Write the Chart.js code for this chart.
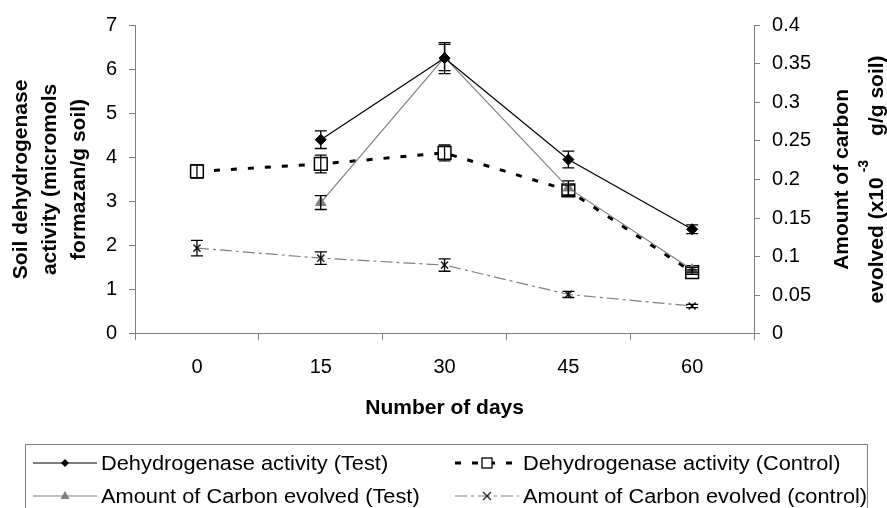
<!DOCTYPE html>
<html>
<head>
<meta charset="utf-8">
<script src="https://cdn.jsdelivr.net/npm/chart.js@4.4.0/dist/chart.umd.min.js"></script>
<style>
  body { margin: 0; background: #fff; font-family: "Liberation Sans", Arial, sans-serif; }
  #wrap { position: relative; width: 887px; height: 508px; overflow: hidden; }
  #legend { position: absolute; left: 25px; top: 444px; width: 843px; height: 80px; border: 1px solid #808080; box-sizing: border-box; }
  .item { position: absolute; display: flex; align-items: center; height: 30px; }
  .item svg { flex: none; }
  .item span { font-size: 20px; color: #000; white-space: nowrap; display: inline-block; transform: scaleX(1.09); transform-origin: left center; margin-left: 4px; }
</style>
</head>
<body>
<div id="wrap">
  <canvas id="chart"></canvas>
  <div id="legend"></div>
</div>
<script>
// days on x axis
const days = ['0', '15', '30', '45', '60'];

// dehydrogenase activity (left axis, micromols formazan/g soil)
const dehydTest = [null, 4.4, 6.25, 3.95, 2.37];
const dehydTestErr = [null, 0.2, 0.35, 0.19, 0.1];
const dehydControl = [3.68, 3.85, 4.1, 3.25, 1.4];
const dehydControlErr = [0.15, 0.2, 0.18, 0.12, 0.05];

// carbon evolved (right axis, x10^-3 g/g soil)
const carbonTest = [null, 0.17, 0.358, 0.189, 0.083];
const carbonTestErr = [null, 0.009, 0.017, 0.009, 0.003];
const carbonControl = [0.111, 0.098, 0.089, 0.051, 0.036];
const carbonControlErr = [0.01, 0.008, 0.008, 0.004, 0.002];

const leftTicks = [0, 1, 2, 3, 4, 5, 6, 7];
const rightTicks = [0, 0.05, 0.1, 0.15, 0.2, 0.25, 0.3, 0.35, 0.4];

const FONT = '"Liberation Sans", Arial, sans-serif';
const GRAY = '#808080';

// error bars drawn through the dataset scales
const errorBars = {
  id: 'errorBars',
  afterDatasetsDraw(chart) {
    const ctx = chart.ctx;
    chart.data.datasets.forEach((ds, i) => {
      if (!ds.errors) return;
      const meta = chart.getDatasetMeta(i);
      const yScale = chart.scales[meta.yAxisID];
      ctx.save();
      ctx.strokeStyle = '#000';
      ctx.lineWidth = 1.3;
      meta.data.forEach((pt, j) => {
        const v = ds.data[j];
        const e = ds.errors[j];
        if (v == null || e == null) return;
        const x = pt.x;
        const y1 = yScale.getPixelForValue(v + e);
        const y2 = yScale.getPixelForValue(v - e);
        ctx.beginPath();
        ctx.moveTo(x, y1); ctx.lineTo(x, y2);
        ctx.moveTo(x - 6, y1); ctx.lineTo(x + 6, y1);
        ctx.moveTo(x - 6, y2); ctx.lineTo(x + 6, y2);
        ctx.stroke();
      });
      ctx.restore();
    });
  }
};

// right axis title, rotated like the left one, with superscript
const rightTitle = {
  id: 'rightTitle',
  afterDraw(chart) {
    const ctx = chart.ctx;
    const area = chart.chartArea;
    const cy = (area.top + area.bottom) / 2;
    const big = 'bold 21px ' + FONT;
    const small = 'bold 14px ' + FONT;
    ctx.save();
    ctx.fillStyle = '#000';
    ctx.textBaseline = 'middle';

    ctx.translate(842, cy);
    ctx.rotate(-Math.PI / 2);
    ctx.font = big;
    ctx.textAlign = 'center';
    ctx.fillText('Amount of carbon', 0, 0);
    ctx.restore();

    ctx.save();
    ctx.fillStyle = '#000';
    ctx.textBaseline = 'middle';
    ctx.translate(877, cy);
    ctx.rotate(-Math.PI / 2);
    ctx.textAlign = 'left';
    const p1 = 'evolved (x10';
    const p2 = '-3';
    const p3 = 'g/g soil)';
    ctx.font = big;
    const w1 = ctx.measureText(p1).width;
    const w3 = ctx.measureText(p3).width;
    ctx.font = small;
    const w2 = ctx.measureText(p2).width;
    const gapA = 5, gapB = 24;
    const total = w1 + gapA + w2 + gapB + w3;
    let x = -total / 2;
    ctx.font = big;
    ctx.fillText(p1, x, 0);
    x += w1 + gapA;
    ctx.font = small;
    ctx.fillText(p2, x, -13);
    x += w2 + gapB;
    ctx.font = big;
    ctx.fillText(p3, x, 0);
    ctx.restore();
  }
};

const ctx = document.getElementById('chart').getContext('2d');
const myChart = new Chart(ctx, {
  type: 'line',
  data: {
    labels: days,
    datasets: [
      {
        label: 'Dehydrogenase activity (Test)',
        data: dehydTest,
        errors: dehydTestErr,
        yAxisID: 'y',
        borderColor: '#000',
        backgroundColor: '#000',
        borderWidth: 1.2,
        pointStyle: 'rectRot',
        pointRadius: 5.5,
        pointBorderWidth: 1,
        order: 0,
      },
      {
        label: 'Dehydrogenase activity (Control)',
        data: dehydControl,
        errors: dehydControlErr,
        yAxisID: 'y',
        borderColor: '#000',
        backgroundColor: '#fff',
        pointBorderColor: '#000',
        borderWidth: 3,
        borderDash: [6, 11],
        pointStyle: 'rect',
        pointRadius: 9,
        pointBorderWidth: 1.5,
        order: 2,
      },
      {
        label: 'Amount of Carbon evolved (Test)',
        data: carbonTest,
        errors: carbonTestErr,
        yAxisID: 'y1',
        borderColor: GRAY,
        backgroundColor: GRAY,
        borderWidth: 1.2,
        pointStyle: 'triangle',
        pointRadius: 6,
        pointBorderWidth: 1,
        order: 1,
      },
      {
        label: 'Amount of Carbon evolved (control)',
        data: carbonControl,
        errors: carbonControlErr,
        yAxisID: 'y1',
        borderColor: GRAY,
        backgroundColor: '#222',
        pointBorderColor: '#222',
        borderWidth: 1.2,
        borderDash: [12, 4, 3, 4],
        pointStyle: 'crossRot',
        pointRadius: 5,
        pointBorderWidth: 1.5,
        order: 3,
      },
    ]
  },
  options: {
    responsive: true,
    maintainAspectRatio: false,
    animation: false,
    layout: {
      padding: { left: 0, right: 64, top: 25, bottom: 83 },
    },
    plugins: {
      legend: { display: false },
      tooltip: { enabled: false },
    },
    scales: {
      x: {
        type: 'category',
        offset: true,
        grid: { drawOnChartArea: false, offset: true, tickLength: 6, color: GRAY },
        border: { color: GRAY, width: 1 },
        ticks: { color: '#000', font: { family: FONT, size: 20 }, padding: 16, maxRotation: 0 },
        title: {
          display: true,
          text: 'Number of days',
          color: '#000',
          font: { family: FONT, size: 21, weight: 'bold' },
          padding: { top: 0, bottom: 4 },
        },
      },
      y: {
        position: 'left',
        min: 0,
        max: 7,
        afterBuildTicks: axis => { axis.ticks = leftTicks.map(v => ({ value: v })); },
        grid: { drawOnChartArea: false, tickLength: 6, color: GRAY },
        border: { color: GRAY, width: 1 },
        ticks: { color: '#000', font: { family: FONT, size: 20 }, padding: 12 },
        title: {
          display: true,
          text: ['Soil dehydrogenase', 'activity (micromols', 'formazan/g soil)'],
          color: '#000',
          font: { family: FONT, size: 21, weight: 'bold', lineHeight: 1.38 },
          padding: { top: 7, bottom: 0 },
        },
      },
      y1: {
        position: 'right',
        min: 0,
        max: 0.4,
        afterBuildTicks: axis => { axis.ticks = rightTicks.map(v => ({ value: v })); },
        grid: { drawOnChartArea: false, tickLength: 6, color: GRAY },
        border: { color: GRAY, width: 1 },
        ticks: {
          color: '#000',
          font: { family: FONT, size: 20 },
          padding: 12,
          callback: v => String(+Number(v).toFixed(2)),
        },
      },
    },
  },
  plugins: [errorBars, rightTitle],
});

// legend below the chart
const legendItems = [
  { text: 'Dehydrogenase activity (Test)', left: 7, top: 3, kind: 'diamond' },
  { text: 'Dehydrogenase activity (Control)', left: 429, top: 3, kind: 'square' },
  { text: 'Amount of Carbon evolved (Test)', left: 7, top: 36, kind: 'triangle' },
  { text: 'Amount of Carbon evolved (control)', left: 429, top: 36, kind: 'cross' },
];

function markerSvg(kind) {
  const w = 64, h = 20, c = w / 2, m = h / 2;
  let line = '', mark = '';
  if (kind === 'diamond') {
    line = `<line x1="0" y1="${m}" x2="${w}" y2="${m}" stroke="#000" stroke-width="1.2"/>`;
    mark = `<polygon points="${c},${m - 4} ${c + 4},${m} ${c},${m + 4} ${c - 4},${m}" fill="#000"/>`;
  } else if (kind === 'square') {
    line = `<line x1="0" y1="${m}" x2="${w}" y2="${m}" stroke="#000" stroke-width="3" stroke-dasharray="6 11"/>`;
    mark = `<rect x="${c - 5}" y="${m - 5}" width="10" height="10" fill="#fff" stroke="#000" stroke-width="1.3"/>`;
  } else if (kind === 'triangle') {
    line = `<line x1="0" y1="${m}" x2="${w}" y2="${m}" stroke="${GRAY}" stroke-width="1.2"/>`;
    mark = `<polygon points="${c},${m - 5} ${c + 4.5},${m + 3} ${c - 4.5},${m + 3}" fill="${GRAY}"/>`;
  } else {
    line = `<line x1="0" y1="${m}" x2="${w}" y2="${m}" stroke="${GRAY}" stroke-width="1.2" stroke-dasharray="12 4 3 4"/>`;
    mark = `<path d="M${c - 4},${m - 4}L${c + 4},${m + 4}M${c - 4},${m + 4}L${c + 4},${m - 4}" stroke="#222" stroke-width="1.3"/>`;
  }
  return `<svg width="${w}" height="${h}">${line}${mark}</svg>`;
}

const legendEl = document.getElementById('legend');
legendItems.forEach(it => {
  const div = document.createElement('div');
  div.className = 'item';
  div.style.left = it.left + 'px';
  div.style.top = it.top + 'px';
  div.innerHTML = markerSvg(it.kind) + '<span>' + it.text + '</span>';
  legendEl.appendChild(div);
});
</script>
</body>
</html>
